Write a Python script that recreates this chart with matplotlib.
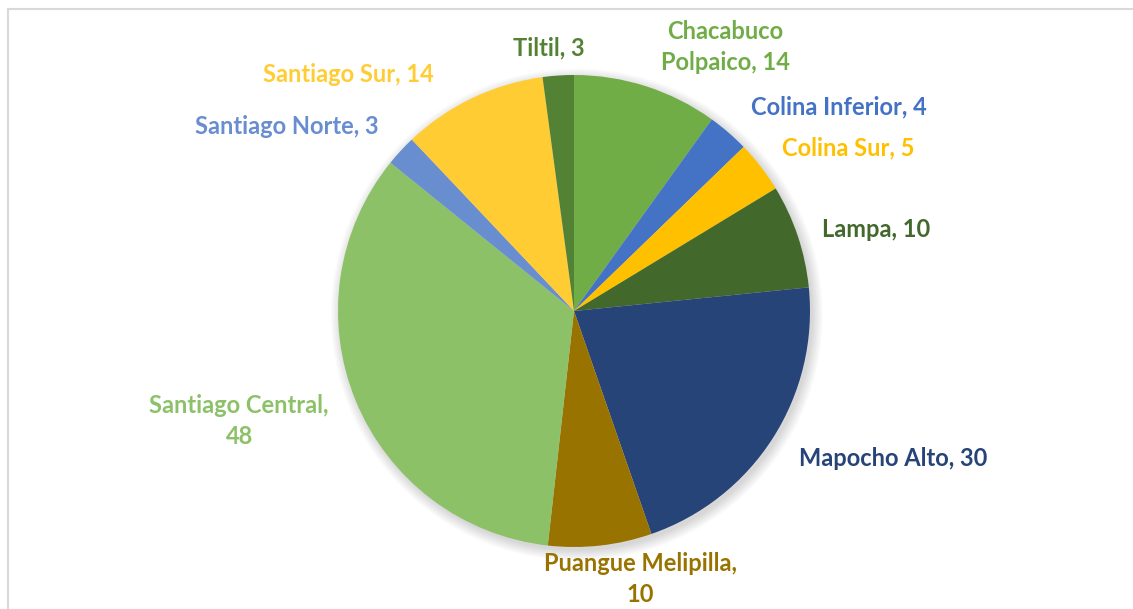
import matplotlib.pyplot as plt
from matplotlib.patches import Rectangle, Circle

plt.rcParams['font.family'] = ['Lato', 'DejaVu Sans']

zones = ['Chacabuco\nPolpaico', 'Colina Inferior', 'Colina Sur', 'Lampa',
         'Mapocho Alto', 'Puangue Melipilla,\n', 'Santiago Central,\n',
         'Santiago Norte', 'Santiago Sur', 'Tiltil']
counts = [14, 4, 5, 10, 30, 10, 48, 3, 14, 3]
colors = ['#70AD47', '#4472C4', '#FFC000', '#43682B', '#264478',
          '#997300', '#8CC168', '#698ED0', '#FFCD33', '#548235']

# label spots (pie units, radius = 1), picked by hand like Excel's best fit
label_pos = [(0.640, 1.119), (1.123, 0.864), (1.161, 0.691), (1.280, 0.347),
             (1.352, -0.623), (0.280, -1.136), (-1.419, -0.466),
             (-1.216, 0.780), (-0.958, 1.004), (-0.106, 1.114)]

fig = plt.figure(figsize=(11.33, 6.09), dpi=100)
ax = fig.add_axes([0, 0, 1, 1])

# soft shadow under the pie
for i in range(8):
    ax.add_patch(Circle((0.012, -0.015), 1.0 + 0.006 * i, color='black',
                        alpha=0.018, lw=0, zorder=0))

ax.pie(counts, colors=colors, startangle=90, counterclock=False,
       radius=1.0, wedgeprops=dict(linewidth=0))

for name, n, c, (x, y) in zip(zones, counts, colors, label_pos):
    if name.endswith('\n'):
        txt = name + str(n)
    else:
        txt = f'{name}, {n}'
    ax.text(x, y, txt, color=c, fontsize=17, fontweight='bold',
            ha='center', va='center', linespacing=1.4)

ax.set_xlim(-574 / 236, (1133 - 574) / 236)
ax.set_ylim((311 - 609) / 236, 311 / 236)
ax.set_aspect('auto')
ax.axis('off')

# chart frame (only the top and left edges show in the crop)
fig.patches.append(Rectangle((8 / 1133, -0.1), 1.2, 1 - 9 / 609 + 0.1,
                             transform=fig.transFigure, fill=False,
                             edgecolor='#D9D9D9', lw=1.5))

fig.savefig('out.png', dpi=100)
